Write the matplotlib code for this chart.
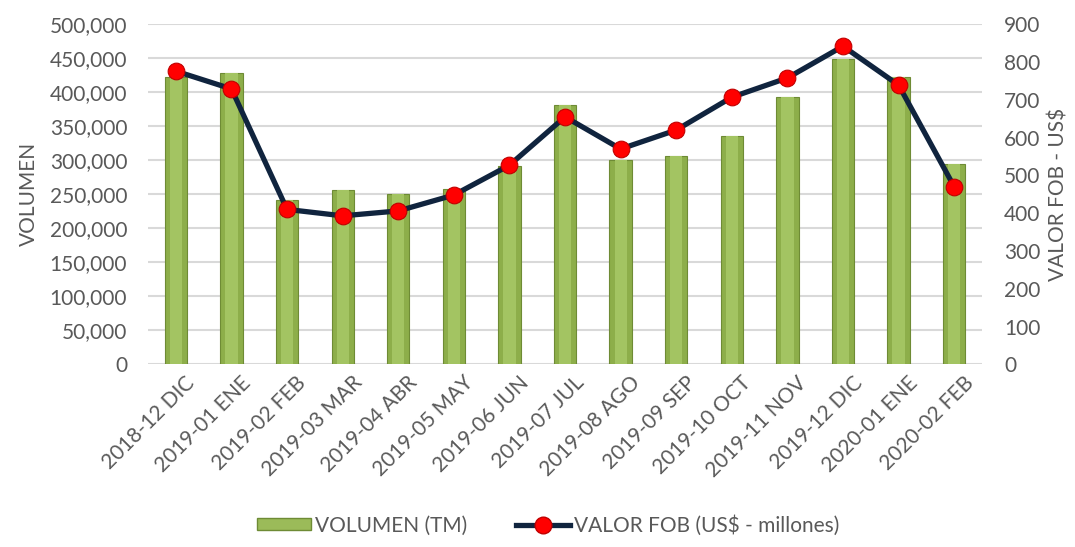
import matplotlib
matplotlib.use("Agg")
import matplotlib.pyplot as plt
import matplotlib.transforms as mtransforms
from matplotlib.ticker import FuncFormatter, MultipleLocator
from matplotlib.lines import Line2D
from matplotlib.patches import Patch
import numpy as np

categories = ["2018-12 DIC", "2019-01 ENE", "2019-02 FEB", "2019-03 MAR", "2019-04 ABR",
              "2019-05 MAY", "2019-06 JUN", "2019-07 JUL", "2019-08 AGO", "2019-09 SEP",
              "2019-10 OCT", "2019-11 NOV", "2019-12 DIC", "2020-01 ENE", "2020-02 FEB"]
volumen = [422000, 428000, 242000, 256000, 250000, 258000, 292000, 382000, 300000,
           306000, 335000, 393500, 448500, 423000, 295000]
valor_fob = [776, 729, 410, 393, 406, 448, 527, 655, 570, 620, 707, 758, 842, 739, 470]

plt.rcParams['font.family'] = ['Lato', 'DejaVu Sans']
txt = '#595959'
fs = 15

fig = plt.figure(figsize=(10.75, 5.47), dpi=100)
ax = fig.add_axes([0.1377, 0.334, 0.7758, 0.6216])
x = np.arange(len(categories))

ax.bar(x, volumen, width=0.4, color='#8DAE4A', edgecolor='#6E8B35', linewidth=0.8, zorder=2)
ax.bar(x, volumen, width=0.22, color='#A3C462', linewidth=0, zorder=2.1)

ax.set_xlim(-0.5, len(categories) - 0.5)
ax.set_ylim(0, 500000)
ax.yaxis.set_major_locator(MultipleLocator(50000))
ax.yaxis.set_major_formatter(FuncFormatter(lambda v, p: f"{int(v):,}"))
ax.grid(axis='y', color='#D9D9D9', linewidth=1.5, zorder=0)
ax.set_axisbelow(True)
for s in ax.spines.values():
    s.set_visible(False)
ax.tick_params(axis='both', length=0, colors=txt, labelsize=fs)
ax.tick_params(axis='y', pad=15)
ax.set_xticks(x)
ax.set_xticklabels(categories, rotation=45, ha='right', rotation_mode='anchor')
ax.tick_params(axis='x', pad=6)
offset = mtransforms.ScaledTranslation(9 / 100, 0, fig.dpi_scale_trans)
for lab in ax.get_xticklabels():
    lab.set_transform(lab.get_transform() + offset)
ax.set_ylabel("VOLUMEN", color=txt, fontsize=fs, labelpad=8)

ax2 = ax.twinx()
ax2.set_ylim(0, 900)
ax2.yaxis.set_major_locator(MultipleLocator(100))
for s in ax2.spines.values():
    s.set_visible(False)
ax2.tick_params(axis='y', length=0, colors=txt, labelsize=fs, pad=16)
ax2.plot(x, valor_fob, color='#10243E', linewidth=3.8, marker='o', markersize=12,
         markerfacecolor='#FF0000', markeredgecolor='#C00000', markeredgewidth=0.8, zorder=3)
ax2.set_ylabel("VALOR FOB - US$", color=txt, fontsize=fs, labelpad=6)

handles = [Patch(facecolor='#9BBB59', edgecolor='#6E8B35', label='VOLUMEN (TM)'),
           Line2D([0], [0], color='#10243E', linewidth=3.8, marker='o', markersize=12,
                  markerfacecolor='#FF0000', markeredgecolor='#C00000', label='VALOR FOB (US$ - millones)')]
fig.legend(handles=handles, loc='center', bbox_to_anchor=(0.51, 0.04), ncol=2, frameon=False,
           fontsize=fs, labelcolor=txt, handlelength=2.6, handleheight=0.5, handletextpad=0.2,
           columnspacing=2.3)

fig.savefig("out.png", dpi=100)
